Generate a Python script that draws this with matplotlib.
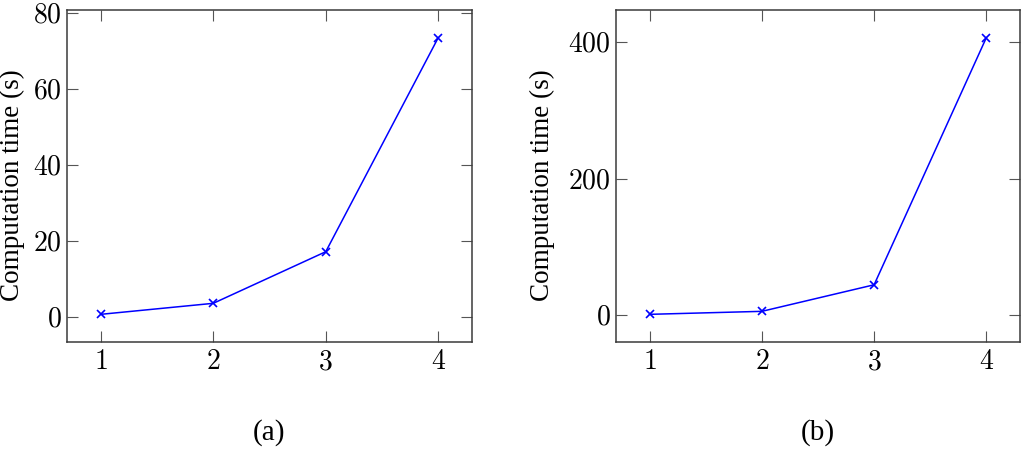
import matplotlib
matplotlib.use("Agg")
import matplotlib.pyplot as plt

# Data
x_values = [1, 2, 3, 4]
time_a = [0.7, 3.6, 17.2, 73.6]
time_b = [0.5, 4.9, 43.9, 407.0]
yticks_a = [0, 20, 40, 60, 80]
yticks_b = [0, 200, 400]
ylabel_text = "Computation time (s)"
captions = ["(a)", "(b)"]

plt.rcParams['mathtext.fontset'] = 'cm'
plt.rcParams['font.family'] = ['Liberation Serif', 'DejaVu Serif']

fig = plt.figure(figsize=(10.23, 4.5), dpi=100)
W, H = 1023, 450

def make_axes(left_px, right_px):
    return fig.add_axes([left_px / W, (H - 342) / H, (right_px - left_px) / W, 332 / H])

ax_a = make_axes(67, 472)
ax_b = make_axes(616, 1020)

frame_color = '#3a3a3a'
for ax, ys, yt, cap, lblx in [(ax_a, time_a, yticks_a, captions[0], -0.104),
                              (ax_b, time_b, yticks_b, captions[1], -0.150)]:
    ax.plot(x_values, ys, color='#0000ff', linewidth=1.1, marker='x',
            markersize=6, markeredgewidth=1.2)
    rng = max(ys) - min(ys)
    ax.set_ylim(min(ys) - 0.1 * rng, max(ys) + 0.1 * rng)
    ax.set_xlim(0.7, 4.3)
    ax.set_xticks(x_values)
    ax.set_xticklabels([f"${v}$" for v in x_values])
    ax.set_yticks(yt)
    ax.set_yticklabels([f"${v}$" for v in yt])
    ax.tick_params(direction='in', top=True, right=True, length=8, width=0.8,
                   color='#555555', labelsize=20, pad=4)
    ax.tick_params(axis='x', pad=6)
    for s in ax.spines.values():
        s.set_color(frame_color)
        s.set_linewidth(1.1)
    ax.set_ylabel(ylabel_text, fontsize=19.5)
    ax.yaxis.set_label_coords(lblx, 0.473)
    pos = ax.get_position()
    fig.text(pos.x0 + pos.width / 2, 1 - 433 / H, cap, ha='center', va='center',
             fontsize=21, family=['Liberation Serif'])

fig.savefig("out.png", dpi=100)
